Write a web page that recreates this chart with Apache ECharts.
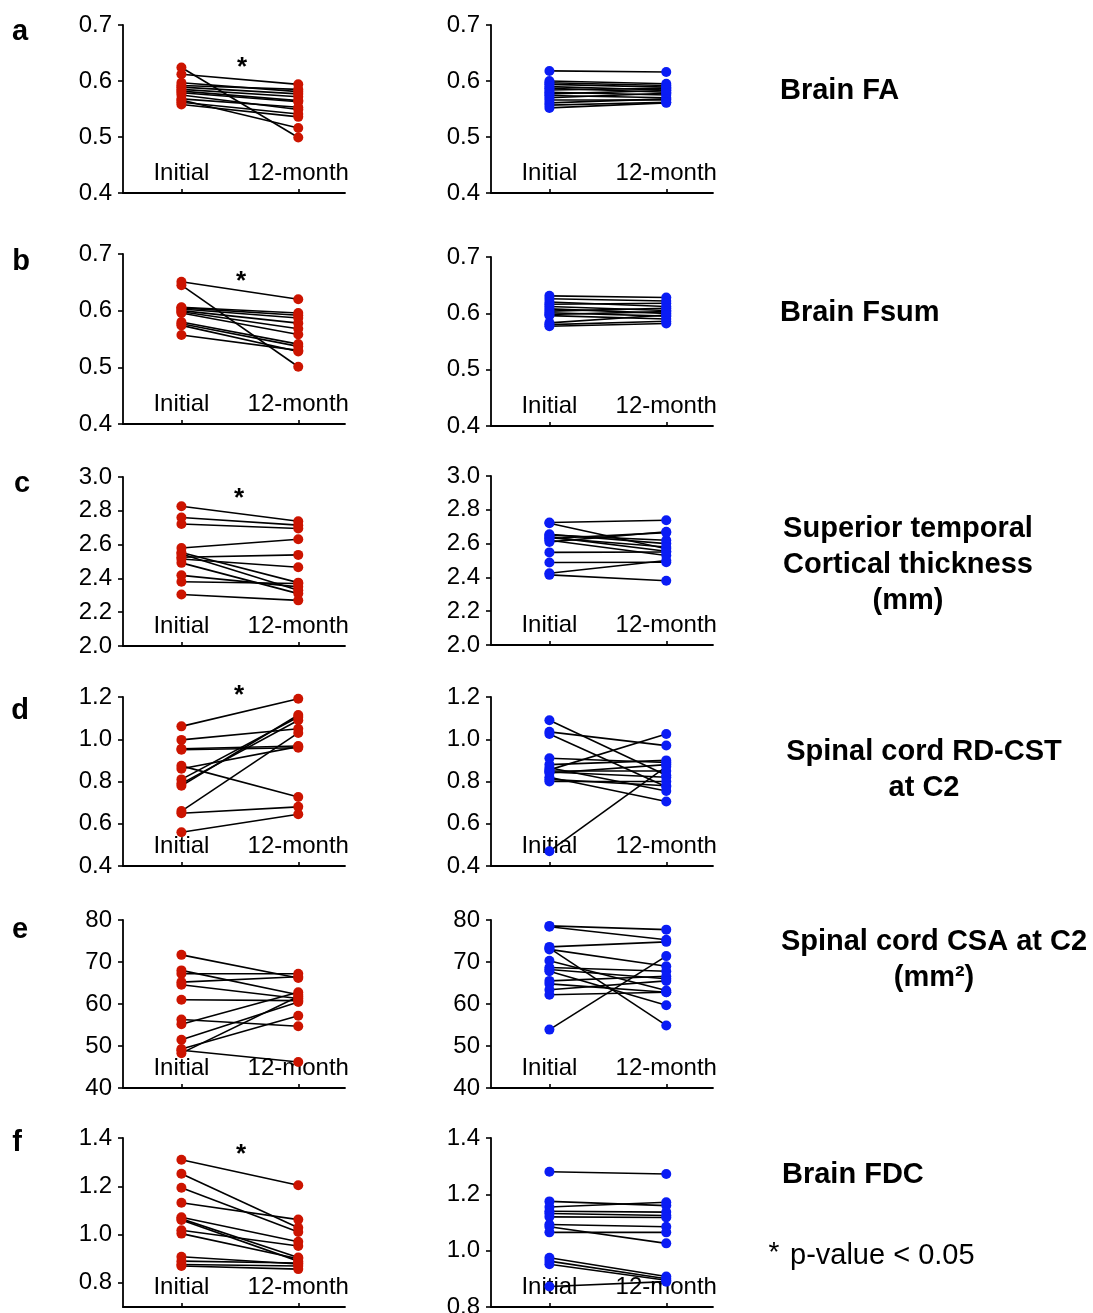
<!DOCTYPE html>
<html>
<head>
<meta charset="utf-8">
<script src="https://cdn.jsdelivr.net/npm/echarts@6/dist/echarts.min.js"></script>
<style>
  html, body { margin: 0; padding: 0; background: #fff; }
  #main { width: 1093px; height: 1313px; }
</style>
</head>
<body>
<div id="main"></div>
<script>
var timepoints = ['Initial', '12-month'];

// a: Brain FA
var faRedInitial  = [0.624, 0.612, 0.597, 0.592, 0.589, 0.585, 0.582, 0.579, 0.575, 0.568, 0.566, 0.562, 0.558];
var faRed12m      = [0.499, 0.594, 0.581, 0.585, 0.577, 0.572, 0.565, 0.563, 0.549, 0.553, 0.516, 0.541, 0.536];
var faBlueInitial = [0.618, 0.600, 0.597, 0.594, 0.590, 0.587, 0.584, 0.580, 0.577, 0.574, 0.570, 0.566, 0.561, 0.557, 0.552];
var faBlue12m     = [0.616, 0.595, 0.592, 0.589, 0.584, 0.580, 0.587, 0.575, 0.583, 0.570, 0.578, 0.566, 0.568, 0.562, 0.561];
var faTicks = [0.4, 0.5, 0.6, 0.7];

// b: Brain Fsum
var fsumRedInitial  = [0.651, 0.645, 0.606, 0.605, 0.603, 0.600, 0.598, 0.596, 0.580, 0.577, 0.574, 0.557];
var fsumRed12m      = [0.620, 0.501, 0.596, 0.592, 0.587, 0.578, 0.568, 0.558, 0.541, 0.537, 0.528, 0.530];
var fsumBlueInitial = [0.631, 0.626, 0.620, 0.616, 0.612, 0.608, 0.604, 0.601, 0.598, 0.596, 0.583, 0.580, 0.577];
var fsumBlue12m     = [0.628, 0.622, 0.612, 0.618, 0.605, 0.600, 0.609, 0.595, 0.603, 0.590, 0.597, 0.586, 0.582];
var fsumTicks = [0.4, 0.5, 0.6, 0.7];

// c: Superior temporal cortical thickness (mm)
var cthRedInitial  = [2.827, 2.760, 2.722, 2.580, 2.553, 2.545, 2.525, 2.515, 2.492, 2.418, 2.380, 2.305];
var cthRed12m      = [2.738, 2.715, 2.695, 2.632, 2.375, 2.330, 2.539, 2.466, 2.310, 2.350, 2.370, 2.270];
var cthBlueInitial = [2.725, 2.720, 2.655, 2.650, 2.640, 2.635, 2.630, 2.620, 2.610, 2.548, 2.488, 2.425, 2.415];
var cthBlue12m     = [2.738, 2.570, 2.600, 2.620, 2.555, 2.580, 2.665, 2.530, 2.670, 2.550, 2.490, 2.500, 2.380];
var cthTicks = [2.0, 2.2, 2.4, 2.6, 2.8, 3.0];

// d: Spinal cord RD-CST at C2
var rdRedInitial  = [1.061, 0.997, 0.955, 0.950, 0.874, 0.860, 0.810, 0.790, 0.780, 0.660, 0.650, 0.560];
var rdRed12m      = [1.192, 1.050, 0.968, 0.960, 0.727, 0.965, 1.105, 1.090, 1.115, 1.030, 0.680, 0.645];
var rdBlueInitial = [1.090, 1.035, 1.025, 0.910, 0.880, 0.865, 0.855, 0.850, 0.845, 0.840, 0.820, 0.810, 0.800, 0.470];
var rdBlue12m     = [0.830, 0.970, 0.775, 0.890, 0.900, 0.755, 1.025, 0.850, 0.820, 0.880, 0.705, 0.780, 0.800, 0.870];
var rdTicks = [0.4, 0.6, 0.8, 1.0, 1.2];

// e: Spinal cord CSA at C2 (mm2)
var csaRedInitial  = [71.7, 68.0, 67.2, 65.2, 64.6, 61.0, 56.3, 55.2, 51.5, 49.3, 48.3, 49.0];
var csaRed12m      = [66.2, 62.2, 67.2, 66.5, 61.3, 60.8, 54.7, 62.8, 60.5, 57.2, 61.8, 46.2];
var csaBlueInitial = [78.6, 78.4, 73.6, 73.3, 73.0, 70.3, 68.7, 68.2, 67.8, 65.5, 64.8, 63.4, 62.2, 53.9];
var csaBlue12m     = [77.7, 75.3, 74.8, 54.9, 69.0, 63.2, 67.8, 66.0, 59.7, 66.6, 62.8, 65.5, 62.8, 71.4];
var csaTicks = [40, 50, 60, 70, 80];

// f: Brain FDC
var fdcRedInitial  = [1.310, 1.252, 1.194, 1.132, 1.072, 1.065, 1.060, 1.018, 1.004, 0.908, 0.890, 0.876, 0.870];
var fdcRed12m      = [1.204, 1.028, 1.011, 1.062, 0.970, 0.905, 0.890, 0.953, 0.900, 0.878, 0.882, 0.870, 0.857];
var fdcBlueInitial = [1.280, 1.175, 1.155, 1.140, 1.132, 1.120, 1.093, 1.085, 1.065, 0.975, 0.963, 0.952, 0.873];
var fdcBlue12m     = [1.272, 1.160, 1.172, 1.137, 1.125, 1.118, 1.085, 1.026, 1.065, 0.908, 0.900, 0.895, 0.890];
var fdcTicks = [0.8, 1.0, 1.2, 1.4];

var RED = '#cc1400';
var BLUE = '#0a1cf5';
var FONT = 'Liberation Sans, Arial, sans-serif';

// layout of the 12 small plots
var panels = [
    {ini: faRedInitial,    m12: faRed12m,    color: RED,  ticks: faTicks,   min: 0.4, max: 0.7, dec: 1, x: 123, top: 25,  bottom: 193},
    {ini: faBlueInitial,   m12: faBlue12m,   color: BLUE, ticks: faTicks,   min: 0.4, max: 0.7, dec: 1, x: 491, top: 25,  bottom: 193},
    {ini: fsumRedInitial,  m12: fsumRed12m,  color: RED,  ticks: fsumTicks, min: 0.4, max: 0.7, dec: 1, x: 123, top: 254, bottom: 424},
    {ini: fsumBlueInitial, m12: fsumBlue12m, color: BLUE, ticks: fsumTicks, min: 0.4, max: 0.7, dec: 1, x: 491, top: 257, bottom: 426},
    {ini: cthRedInitial,   m12: cthRed12m,   color: RED,  ticks: cthTicks,  min: 2.0, max: 3.0, dec: 1, x: 123, top: 477, bottom: 646},
    {ini: cthBlueInitial,  m12: cthBlue12m,  color: BLUE, ticks: cthTicks,  min: 2.0, max: 3.0, dec: 1, x: 491, top: 476, bottom: 645},
    {ini: rdRedInitial,    m12: rdRed12m,    color: RED,  ticks: rdTicks,   min: 0.4, max: 1.2, dec: 1, x: 123, top: 697, bottom: 866},
    {ini: rdBlueInitial,   m12: rdBlue12m,   color: BLUE, ticks: rdTicks,   min: 0.4, max: 1.2, dec: 1, x: 491, top: 697, bottom: 866},
    {ini: csaRedInitial,   m12: csaRed12m,   color: RED,  ticks: csaTicks,  min: 40,  max: 80,  dec: 0, x: 123, top: 920, bottom: 1088},
    {ini: csaBlueInitial,  m12: csaBlue12m,  color: BLUE, ticks: csaTicks,  min: 40,  max: 80,  dec: 0, x: 491, top: 920, bottom: 1088},
    {ini: fdcRedInitial,   m12: fdcRed12m,   color: RED,  ticks: fdcTicks,  min: 0.7, max: 1.4, dec: 1, x: 123, top: 1138, bottom: 1307},
    {ini: fdcBlueInitial,  m12: fdcBlue12m,  color: BLUE, ticks: fdcTicks,  min: 0.8, max: 1.4, dec: 1, x: 491, top: 1138, bottom: 1307}
];

var chart = echarts.init(document.getElementById('main'));

var grids = [], xAxes = [], yAxes = [], series = [];

panels.forEach(function(p, k) {
    grids.push({left: p.x, top: p.top, width: 222, height: p.bottom - p.top, outerBoundsMode: 'none'});
    xAxes.push({
        type: 'value', gridIndex: k, min: -0.5, max: 1.4,
        splitLine: {show: false},
        axisLine: {onZero: false, lineStyle: {color: '#000', width: 1.8}},
        axisTick: {inside: true, length: 4, customValues: [0, 1], lineStyle: {color: '#000', width: 1.6}},
        axisLabel: {
            inside: true, margin: 8, customValues: [0, 1],
            color: '#000', fontSize: 24, fontFamily: FONT,
            formatter: function(v) { return timepoints[Math.round(v)]; }
        }
    });
    yAxes.push({
        type: 'value', gridIndex: k, min: p.min, max: p.max,
        splitLine: {show: false},
        axisLine: {show: true, onZero: false, lineStyle: {color: '#000', width: 1.8}},
        axisTick: {show: true, length: 5, customValues: p.ticks, lineStyle: {color: '#000', width: 1.6}},
        axisLabel: {
            margin: 11, customValues: p.ticks,
            color: '#000', fontSize: 24, fontFamily: FONT,
            formatter: function(v) { return v.toFixed(p.dec); }
        }
    });
    // one connecting line per subject
    p.ini.forEach(function(v, i) {
        series.push({
            type: 'line', xAxisIndex: k, yAxisIndex: k,
            data: [[0, v], [1, p.m12[i]]],
            showSymbol: false, silent: true, z: 2,
            lineStyle: {color: '#000', width: 1.6}
        });
    });
    series.push({
        type: 'scatter', xAxisIndex: k, yAxisIndex: k, z: 3,
        symbolSize: 10,
        itemStyle: {color: p.color, opacity: 1},
        data: p.ini.map(function(v) { return [0, v]; })
            .concat(p.m12.map(function(v) { return [1, v]; }))
    });
});

var txt = function(s, x, y, opt) {
    opt = opt || {};
    return {
        type: 'text', x: x, y: y, z: 10,
        style: {
            text: s, fill: '#000',
            font: (opt.bold === false ? '' : 'bold ') + (opt.size || 29) + 'px ' + FONT,
            textAlign: opt.align || 'left', textVerticalAlign: 'middle',
            lineHeight: opt.lh || 36
        }
    };
};

var graphics = [
    txt('a', 20, 32, {align: 'center'}),
    txt('b', 21, 262, {align: 'center'}),
    txt('c', 22, 484, {align: 'center'}),
    txt('d', 20, 711, {align: 'center'}),
    txt('e', 20, 930, {align: 'center'}),
    txt('f', 17, 1143, {align: 'center'}),
    txt('*', 242, 68, {align: 'center', size: 26}),
    txt('*', 241, 282, {align: 'center', size: 26}),
    txt('*', 239, 499, {align: 'center', size: 26}),
    txt('*', 239, 696, {align: 'center', size: 26}),
    txt('*', 241, 1155, {align: 'center', size: 26}),
    txt('Brain FA', 780, 91),
    txt('Brain Fsum', 780, 313),
    txt('Superior temporal\nCortical thickness\n(mm)', 908, 565, {align: 'center'}),
    txt('Spinal cord RD-CST\nat C2', 924, 770, {align: 'center'}),
    txt('Spinal cord CSA at C2\n(mm\u00b2)', 934, 960, {align: 'center'}),
    txt('Brain FDC', 782, 1175),
    txt('*', 774, 1253, {align: 'center', size: 28, bold: false}),
    txt('p-value < 0.05', 790, 1256, {size: 29, bold: false})
];

var option = {
    animation: false,
    backgroundColor: '#fff',
    grid: grids,
    xAxis: xAxes,
    yAxis: yAxes,
    series: series,
    graphic: graphics
};

chart.setOption(option);
</script>
</body>
</html>
